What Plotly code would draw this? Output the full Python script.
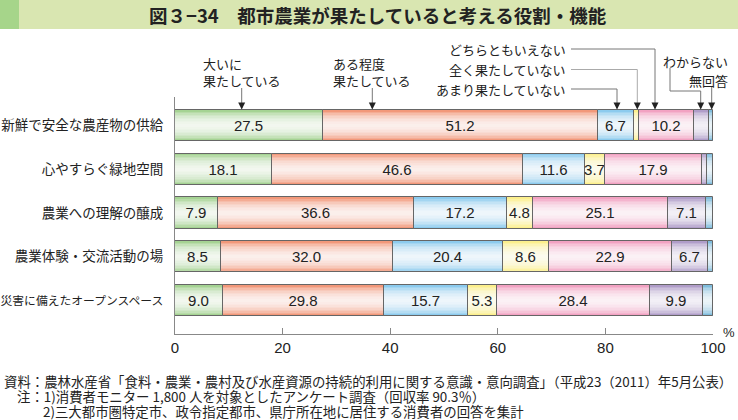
import plotly.graph_objects as go

categories = ["新鮮で安全な農産物の供給", "心やすらぐ緑地空間", "農業への理解の醸成",
              "農業体験・交流活動の場", "災害に備えたオープンスペース"]
series_names = ["大いに果たしている", "ある程度果たしている", "あまり果たしていない",
                "全く果たしていない", "どちらともいえない", "わからない", "無回答"]
s_oini = [27.5, 18.1, 7.9, 8.5, 9.0]
s_aruteido = [51.2, 46.6, 36.6, 32.0, 29.8]
s_amari = [6.7, 11.6, 17.2, 20.4, 15.7]
s_mattaku = [0.9, 3.7, 4.8, 8.6, 5.3]
s_dochira = [10.2, 17.9, 25.1, 22.9, 28.4]
s_wakaranai = [2.7, 0.9, 7.1, 6.7, 9.9]
s_mukaito = [0.8, 1.2, 1.3, 0.9, 1.9]
x_ticks = [0, 20, 40, 60, 80, 100]

series = [s_oini, s_aruteido, s_amari, s_mattaku, s_dochira, s_wakaranai, s_mukaito]
colors = ["#a5d393", "#f2987a", "#8ccbee", "#fcef8c", "#f2a2c2", "#b09dc9", "#7fbcdc"]
show_label = [True, True, True, True, True, True, False]

# pixel geometry helpers
L, R, T, B = 175, 713, 97, 334
W, H = 738, 420
def px2x(px):
    return (px - L) / (R - L) * 100.0
def px2paper(px):
    return (px - L) / (R - L)
def py2paper(py):
    return (B - py) / (B - T)

fig = go.Figure()
BW = 0.71
NL = 9
bases = [0.0] * len(categories)
for si, vals in enumerate(series):
    base = list(bases)
    fig.add_trace(go.Bar(y=categories, x=vals, base=base, orientation="h", width=BW,
                         marker=dict(color=colors[si], line=dict(width=0)),
                         showlegend=False, hoverinfo="skip"))
    for k in range(1, NL + 1):
        w = BW * (1 - k / (NL + 1))
        fig.add_trace(go.Bar(y=categories, x=vals, base=base, orientation="h", width=w,
                             marker=dict(color="rgba(255,255,255,0.2)", line=dict(width=0)),
                             showlegend=False, hoverinfo="skip"))
    txt = [f"{v:.1f}" if (show_label[si] and v >= 3) else "" for v in vals]
    fig.add_trace(go.Bar(y=categories, x=vals, base=base, orientation="h", width=BW,
                         name=series_names[si],
                         marker=dict(color="rgba(0,0,0,0)", line=dict(color="#666", width=1)),
                         text=txt, textposition="inside", insidetextanchor="middle",
                         textangle=0,
                         textfont=dict(family="Liberation Sans, Arial", size=15, color="#222"),
                         showlegend=False, hoverinfo="skip"))
    bases = [b + v for b, v in zip(bases, vals)]

shapes = []
# title bar
shapes.append(dict(type="rect", xref="paper", yref="paper", x0=px2paper(0), x1=px2paper(W),
                   y0=py2paper(29), y1=py2paper(0), fillcolor="#d9e6b1", line=dict(width=0), layer="below"))
shapes.append(dict(type="rect", xref="paper", yref="paper", x0=px2paper(0), x1=px2paper(19),
                   y0=py2paper(29), y1=py2paper(0), fillcolor="#a6d58a", line=dict(width=0), layer="below"))

def path_shape(points, color="#777"):
    d = "M " + " L ".join(f"{px2x(x)},{py2paper(y)}" for x, y in points)
    return dict(type="path", xref="x", yref="paper", path=d, line=dict(color=color, width=1))

tip = 108.5
shapes.append(path_shape([(241.7, 88), (241.7, tip)]))
shapes.append(path_shape([(372.3, 88), (372.3, tip)]))
shapes.append(path_shape([(571, 49), (655, 49), (655, tip)]))
shapes.append(path_shape([(571, 69.5), (637.3, 69.5), (637.3, tip)], color="#aaa"))
shapes.append(path_shape([(571, 89), (617, 89), (617, tip)]))
shapes.append(path_shape([(670, 68), (670, 91), (700.7, 91), (700.7, tip)]))
shapes.append(path_shape([(711.7, 86), (711.7, tip)]))

annotations = []
annotations.append(dict(xref="paper", yref="paper", x=px2paper(378), y=py2paper(15),
                        text="<b>図３−34　都市農業が果たしていると考える役割・機能</b>",
                        showarrow=False, xanchor="center", yanchor="middle",
                        font=dict(family="Noto Sans CJK JP", size=18.5, color="#222")))
lab_font = dict(family="Noto Sans CJK JP", size=13, color="#222")
annotations.append(dict(xref="paper", yref="paper", x=px2paper(201), y=py2paper(72),
                        text="大いに<br>果たしている", showarrow=False, xanchor="left",
                        yanchor="middle", align="left", font=lab_font))
annotations.append(dict(xref="paper", yref="paper", x=px2paper(331), y=py2paper(72),
                        text="ある程度<br>果たしている", showarrow=False, xanchor="left",
                        yanchor="middle", align="left", font=lab_font))
for txt, yy in [("どちらともいえない", 49), ("全く果たしていない", 69.5), ("あまり果たしていない", 89)]:
    annotations.append(dict(xref="paper", yref="paper", x=px2paper(568), y=py2paper(yy),
                            text=txt, showarrow=False, xanchor="right", yanchor="middle",
                            font=lab_font))
annotations.append(dict(xref="paper", yref="paper", x=px2paper(730), y=py2paper(61),
                        text="わからない", showarrow=False, xanchor="right", yanchor="middle",
                        font=lab_font))
annotations.append(dict(xref="paper", yref="paper", x=px2paper(730), y=py2paper(80),
                        text="無回答", showarrow=False, xanchor="right", yanchor="middle",
                        font=lab_font))
# arrowheads
for ax_px in [241.7, 372.3, 617, 637.3, 655, 700.7, 711.7]:
    annotations.append(dict(xref="x", yref="paper", x=px2x(ax_px), y=py2paper(109.5),
                            text="", showarrow=True, ax=0, ay=-7, arrowhead=2,
                            arrowsize=1.4, arrowwidth=1, arrowcolor="#222", standoff=0))
# percent sign
annotations.append(dict(xref="paper", yref="paper", x=px2paper(729), y=py2paper(332),
                        text="%", showarrow=False, xanchor="center", yanchor="middle",
                        font=dict(family="Liberation Sans, Arial", size=13, color="#222")))
# footnotes
note_font = dict(family="Noto Sans CJK JP", size=13.4, color="#222")
notes = [
    (2, 381, "資料：農林水産省「食料・農業・農村及び水産資源の持続的利用に関する意識・意向調査」（平成23（2011）年5月公表）"),
    (15, 396, "注：1)消費者モニター 1,800 人を対象としたアンケート調査（回収率 90.3％）"),
    (41, 411, "2)三大都市圏特定市、政令指定都市、県庁所在地に居住する消費者の回答を集計"),
]
for xx, yy, t in notes:
    annotations.append(dict(xref="paper", yref="paper", x=px2paper(xx), y=py2paper(yy),
                            text=t, showarrow=False, xanchor="left", yanchor="middle",
                            font=note_font))

top_idx = (T - 125.5) / 43.75
bot_idx = (B - 125.5) / 43.75

# tick labels: the long katakana label is set smaller so it fits like the reference
tick_text = [c if len(c) <= 12 else f'<span style="font-size:11.8px">{c}</span>'
             for c in categories]

fig.update_layout(
    width=W, height=H,
    margin=dict(l=L, r=W - R, t=T, b=H - B, pad=0, autoexpand=False),
    paper_bgcolor="white", plot_bgcolor="white",
    barmode="overlay", bargap=0,
    showlegend=False,
    shapes=shapes, annotations=annotations,
    uniformtext=dict(minsize=15, mode="show"),
    xaxis=dict(range=[0, 100], tickvals=x_ticks, ticktext=[str(v) for v in x_ticks],
               ticks="inside", ticklen=6, tickcolor="#888", showline=True,
               linecolor="#888", linewidth=1, showgrid=False, zeroline=False,
               automargin=False,
               tickfont=dict(family="Liberation Sans, Arial", size=15, color="#222")),
    yaxis=dict(type="category", categoryorder="array", categoryarray=categories,
               tickvals=categories, ticktext=tick_text,
               range=[bot_idx, top_idx], showline=True, linecolor="#888", linewidth=1,
               ticks="", showgrid=False, zeroline=False, ticklabelstandoff=8,
               automargin=False,
               tickfont=dict(family="Noto Sans CJK JP", size=13.5, color="#222")),
)

fig.write_html("out.html", config={"displayModeBar": False},
               post_script="document.body.style.margin='0';document.body.style.padding='0';")
